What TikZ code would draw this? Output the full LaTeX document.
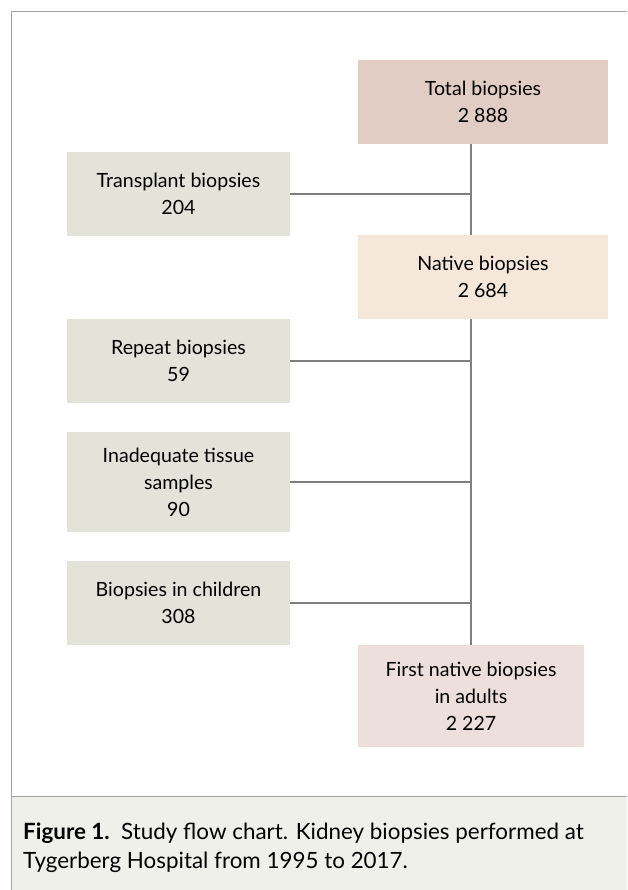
\documentclass[tikz,border=0pt]{standalone}
\usepackage{fontspec}
\setmainfont{Lato}
\usetikzlibrary{calc, positioning}

\definecolor{totalc}{HTML}{E2CDC4}
\definecolor{nativec}{HTML}{F5E8DA}
\definecolor{exclc}{HTML}{E3E3DA}
\definecolor{firstc}{HTML}{EDDFDC}
\definecolor{capc}{HTML}{F0F0EB}
\definecolor{linec}{HTML}{7F7F7F}
\definecolor{framec}{HTML}{A3A3A3}

\begin{document}
\begin{tikzpicture}[x=1pt, y=-1pt,
bx/.style = {% boxes
    inner sep=0pt, align=center, font=\fontsize{19.6}{27}\selectfont,
    minimum height=84pt,
            },
lb/.style = {% left boxes
    bx, fill=exclc, minimum width=223pt,
            },
rb/.style = {% right boxes
    bx, minimum width=250pt,
            },
cn/.style = {% connectors
    draw=linec, line width=2pt,
            },
                        ]
\useasboundingbox (0,0) rectangle (627,890);
% frame and caption
\fill[capc] (11,796) rectangle (627,890);
\draw[framec, line width=1pt] (627,12) -- (11,12) -- (11,890);
\draw[framec, line width=1pt] (11,796) -- (627,796);
% right column
\node[rb, fill=totalc]  (total)  at (483,102) {Total biopsies\\2 888};
\node[rb, fill=nativec] (native) at (483,277) {Native biopsies\\2 684};
\node[bx, fill=firstc, minimum width=226pt, minimum height=102pt]
                        (first)  at (471,696) {First native biopsies\\in adults\\2 227};
% left column
\node[lb] (transplant) at (178.5,194) {Transplant biopsies\\204};
\node[lb] (repeat)     at (178.5,361) {Repeat biopsies\\59};
\node[lb, minimum height=100pt]
          (inadeq)     at (178.5,482) {Inadequate tissue\\samples\\90};
\node[lb] (child)      at (178.5,603) {Biopsies in children\\308};
% trunk
\draw[cn] (total.south -| first.north) -- (native.north -| first.north);
\draw[cn] (native.south -| first.north) -- (first.north);
% branches
\foreach \b in {transplant, repeat, inadeq, child}{\draw[cn] (\b.east) -- (\b.east -| first.north);}
% caption
\node[anchor=west, align=left, inner sep=0pt, font=\fontsize{22.4}{29}\selectfont]
      (cap) at (23,848) {\textbf{Figure 1.}\ \ Study flow chart. Kidney biopsies performed at\\
                         Tygerberg Hospital from 1995 to 2017.};
\end{tikzpicture}
\end{document}
